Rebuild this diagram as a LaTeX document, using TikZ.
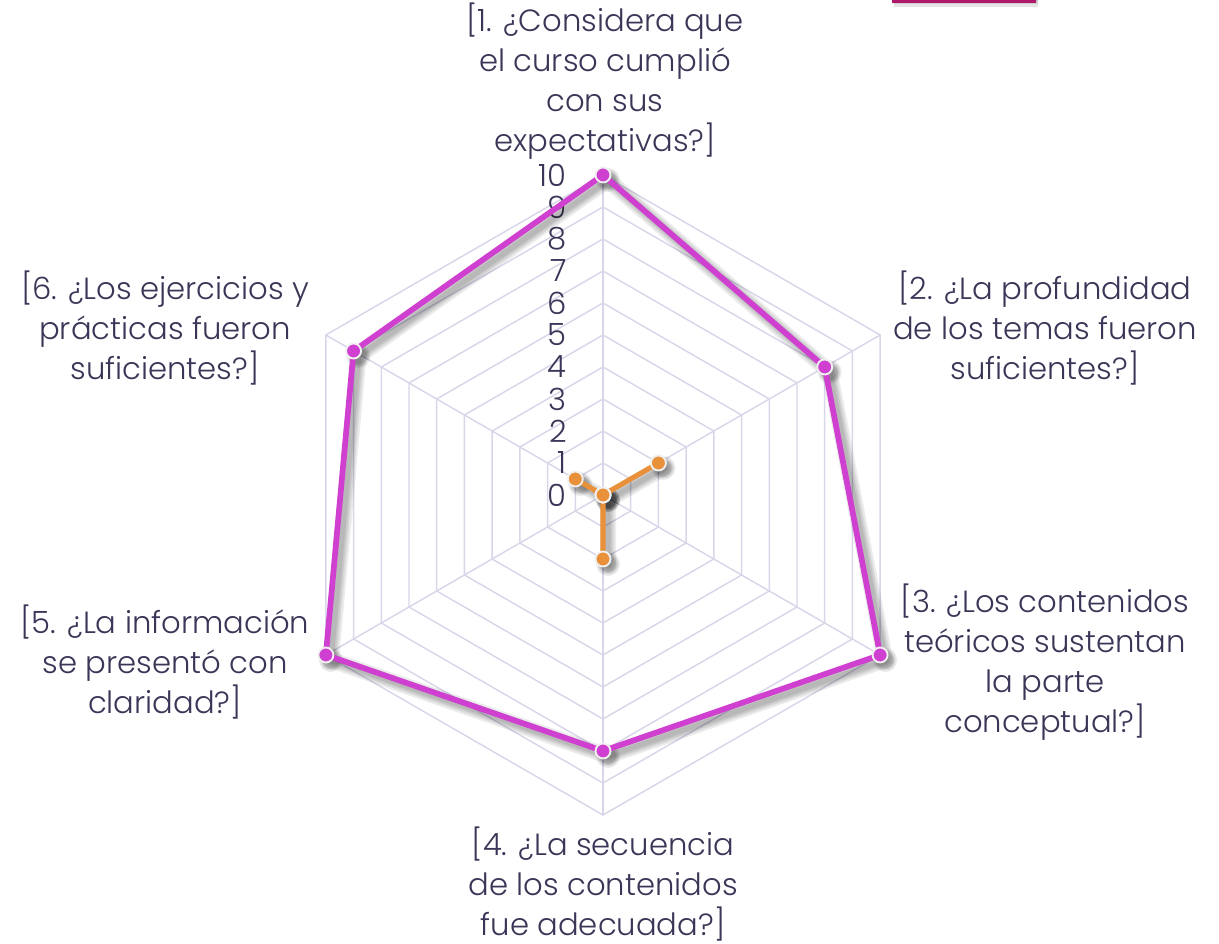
\documentclass[tikz,border=0pt]{standalone}
\usepackage{fontspec}
\setmainfont{Poppins}[UprightFont=* Light]

\definecolor{txt}{HTML}{3B3557}
\definecolor{gridc}{HTML}{D9D6EA}
\definecolor{serA}{HTML}{D040D0}
\definecolor{serB}{HTML}{E8913A}
\definecolor{legc}{HTML}{B0186A}

\begin{document}
\begin{tikzpicture}
  [x=0.75pt,y=0.75pt,
   every node/.style={text=txt,font=\fontsize{23}{30}\selectfont,align=center},
   gridline/.style={draw=gridc,line width=1.1pt},
   shade/.style={black,opacity=.08},
   dotA/.style={fill=serA,draw=white!88!gray,line width=1.4pt},
   dotB/.style={fill=serB,draw=white!88!gray,line width=1.4pt}]
  \useasboundingbox (-603,-449) rectangle (616,495);

  \coordinate (o) at (0,0);
  \foreach \i/\v in {1/10,2/8,3/10,4/8,5/10,6/9}
    \coordinate (a\i) at ({90-60*(\i-1)}:{32*\v});
  \foreach \i/\v in {1/0,2/2,3/0,4/2,5/0,6/1}
    \coordinate (b\i) at ({90-60*(\i-1)}:{32*\v});

  \foreach \r in {1,...,10}
    \draw[gridline] (90:32*\r) -- (30:32*\r) -- (-30:32*\r) -- (-90:32*\r) -- (-150:32*\r) -- (150:32*\r) -- cycle;
  \foreach \k in {1,...,6}
    \draw[gridline] (o) -- ({90-60*(\k-1)}:320);

  \foreach \v in {0,...,10}
    \node[anchor=east,inner sep=0pt] (t\v) at (-36,32*\v) {\v};

  \node (q1) at (2,414)     {[1. ¿Considera que\\el curso cumplió\\con sus\\expectativas?]};
  \node (q2) at (442,167)   {[2. ¿La profundidad\\de los temas fueron\\suficientes?]};
  \node (q3) at (442,-167)  {[3. ¿Los contenidos\\teóricos sustentan\\la parte\\conceptual?]};
  \node (q4) at (0,-389)    {[4. ¿La secuencia\\de los contenidos\\fue adecuada?]};
  \node (q5) at (-438,-167) {[5. ¿La información\\se presentó con\\claridad?]};
  \node (q6) at (-438,167)  {[6. ¿Los ejercicios y\\prácticas fueron\\suficientes?]};

  \begin{scope}[transform canvas={shift={(5,-5)}}]
    \foreach \w in {12,9,6.5,4}{
      \draw[shade,line width=\w pt,line join=round] (a1) -- (a2) -- (a3) -- (a4) -- (a5) -- (a6) -- cycle;
      \draw[shade,line width=\w pt,line join=round] (b1) -- (b2) -- (b3) -- (b4) -- (b5) -- (b6) -- cycle;
      \foreach \i in {1,...,6}{
        \fill[shade] (a\i) circle (6+\w/2);
        \fill[shade] (b\i) circle (6+\w/2);
      }
    }
  \end{scope}

  \draw[serA,line width=4.3pt,line join=round] (a1) -- (a2) -- (a3) -- (a4) -- (a5) -- (a6) -- cycle;
  \draw[serB,line width=3.8pt,line join=round] (b1) -- (b2) -- (b3) -- (b4) -- (b5) -- (b6) -- cycle;
  \foreach \i in {1,...,6}{
    \path[dotA] (a\i) circle (7.5);
    \path[dotB] (b\i) circle (7.5);
  }

  \foreach \w in {2,5,8}
    \fill[shade,opacity=.1] (291,496-\w) rectangle (435,510);
  \fill[legc] (289,492) rectangle (433,520);
\end{tikzpicture}
\end{document}
